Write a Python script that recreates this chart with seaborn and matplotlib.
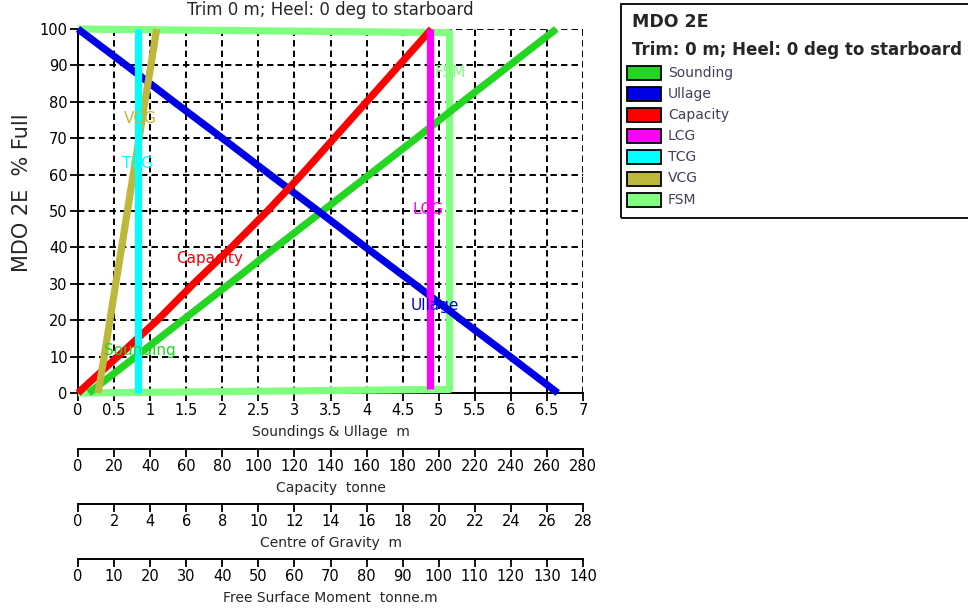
import matplotlib
matplotlib.use("Agg")
import matplotlib.pyplot as plt
import seaborn as sns
import pandas as pd
from matplotlib.patches import Rectangle

# ---- tank table for MDO 2E (trim 0 m, heel 0 deg) ----
pct_full = [0, 10, 20, 30, 40, 50, 60, 70, 80, 90, 100]
sounding_m = [0.15, 0.80, 1.45, 2.10, 2.74, 3.39, 4.04, 4.69, 5.33, 5.98, 6.63]
ullage_m = [6.65, 5.99, 5.32, 4.66, 3.99, 3.33, 2.66, 2.00, 1.33, 0.67, 0.00]
capacity_t = [0, 22, 44, 64, 85, 105, 124, 142, 160, 178, 196]
tcg_m = [3.3, 3.3, 3.3, 3.3, 3.3, 3.3, 3.3, 3.3, 3.3, 3.3, 3.3]
vcg_m = [1.12, 1.45, 1.77, 2.09, 2.42, 2.74, 3.06, 3.39, 3.71, 4.04, 4.36]

lcg_pct = [1, 10, 20, 30, 40, 50, 60, 70, 80, 90, 100]
lcg_m = [19.5, 19.5, 19.5, 19.5, 19.5, 19.5, 19.5, 19.5, 19.5, 19.5, 19.5]

fsm_pct = [0, 1, 99, 100]
fsm_tm = [0, 103, 103, 0]

# axis ranges of the stacked scales
sound_max, cap_max, cg_max, fsm_max = 7, 280, 28, 140

series_names = ["Sounding", "Ullage", "Capacity", "LCG", "TCG", "VCG", "FSM"]
series_colors = {
    "Sounding": "#22d622",
    "Ullage": "#0000e6",
    "Capacity": "#ff0000",
    "LCG": "#ff00ff",
    "TCG": "#00ffff",
    "VCG": "#bdb83c",
    "FSM": "#80ff80",
}

sns.set_style("white")
plt.rcParams["font.family"] = ["DejaVu Sans"]

W, H = 968, 608
fig = plt.figure(figsize=(W / 100, H / 100), dpi=100)
x0, x1, y0, y1 = 78, 583, 393, 29
ax = fig.add_axes([x0 / W, 1 - y0 / H, (x1 - x0) / W, (y0 - y1) / H])

# functions tying each physical scale to the sounding scale of the axes
to_cap = (lambda m: m * cap_max / sound_max, lambda t: t * sound_max / cap_max)
to_cg = (lambda m: m * cg_max / sound_max, lambda g: g * sound_max / cg_max)
to_fsm = (lambda m: m * fsm_max / sound_max, lambda f: f * sound_max / fsm_max)

curves = [
    ("FSM", to_fsm[1], fsm_tm, fsm_pct),
    ("Sounding", lambda v: v, sounding_m, pct_full),
    ("Ullage", lambda v: v, ullage_m, pct_full),
    ("Capacity", to_cap[1], capacity_t, pct_full),
    ("VCG", to_cg[1], vcg_m, pct_full),
    ("LCG", to_cg[1], lcg_m, lcg_pct),
    ("TCG", to_cg[1], tcg_m, pct_full),
]
for name, conv, xs, ys in curves:
    df = pd.DataFrame({"x": [conv(v) for v in xs], "pct": ys})
    sns.lineplot(data=df, x="x", y="pct", ax=ax, color=series_colors[name],
                 lw=5.2, sort=False, estimator=None, clip_on=False,
                 solid_capstyle="butt", zorder=3)

# in-plot curve labels
labels = [
    ("Sounding", 0.86, 11.8),
    ("VCG", 0.86, 75.5),
    ("TCG", 0.82, 63.0),
    ("Capacity", 1.83, 37.0),
    ("LCG", 4.85, 50.5),
    ("Ullage", 4.95, 24.0),
    ("FSM", 5.16, 88.0),
]
for name, lx, ly in labels:
    ax.text(lx, ly, name, color=series_colors[name], fontsize=11,
            ha="center", va="center", zorder=4)

ax.set_xlim(0, sound_max)
ax.set_ylim(0, 100)
ax.set_xticks([i * 0.5 for i in range(15)])
ax.set_xticklabels(["0", "0.5", "1", "1.5", "2", "2.5", "3", "3.5", "4",
                    "4.5", "5", "5.5", "6", "6.5", "7"])
ax.set_yticks(range(0, 101, 10))
ax.grid(True, color="black", linestyle=(0, (3.3, 2.1)), lw=1.4)
ax.set_axisbelow(True)
for s in ("top", "right"):
    ax.spines[s].set_visible(False)
for s in ("left", "bottom"):
    ax.spines[s].set_color("black")
    ax.spines[s].set_linewidth(1.4)
ax.tick_params(bottom=True, left=True, direction="out", length=6, width=1.3,
               labelsize=10.5, colors="black", pad=1.5)
ax.set_xlabel("Soundings & Ullage  m", fontsize=10, labelpad=5)
ax.set_ylabel("MDO 2E  % Full", fontsize=15)
ax.yaxis.set_label_coords(-0.111, 0.549)
ax.yaxis.label.set_va("center")
ax.set_title("Trim 0 m; Heel: 0 deg to starboard", fontsize=12, pad=10)

# stacked secondary scales below the plot
sec_specs = [
    (-0.153, to_cap, range(0, 281, 20), "Capacity  tonne"),
    (-0.304, to_cg, range(0, 29, 2), "Centre of Gravity  m"),
    (-0.455, to_fsm, range(0, 141, 10), "Free Surface Moment  tonne.m"),
]
for loc, funcs, ticks, label in sec_specs:
    sec = ax.secondary_xaxis(loc, functions=funcs)
    sec.set_xticks(list(ticks))
    sec.set_xlabel(label, fontsize=10, labelpad=5)
    sec.spines["bottom"].set_color("black")
    sec.spines["bottom"].set_linewidth(1.4)
    sec.tick_params(bottom=True, direction="out", length=6, width=1.3,
                    labelsize=10.5, colors="black", pad=1.5)

# legend panel
def fx(px):
    return px / W

def fy(py):
    return 1 - py / H

fig.add_artist(Rectangle((fx(621), fy(218)), fx(400), (218 - 4) / H,
                         transform=fig.transFigure, fill=False,
                         edgecolor="black", lw=1.3))
fig.text(fx(632), fy(22), "MDO 2E", fontsize=12.5, fontweight="bold",
         va="center", ha="left")
fig.text(fx(632), fy(50), "Trim: 0 m; Heel: 0 deg to starboard",
         fontsize=12, fontweight="bold", va="center", ha="left")
for i, name in enumerate(series_names):
    cy = 72.5 + i * 21.2
    fig.add_artist(Rectangle((fx(627), fy(cy + 7)), fx(34), 14 / H,
                             transform=fig.transFigure,
                             facecolor=series_colors[name],
                             edgecolor="black", lw=1.3))
    fig.text(fx(668), fy(cy), name, fontsize=10, color="#404058",
             va="center", ha="left")

fig.savefig("out.png", dpi=100)
